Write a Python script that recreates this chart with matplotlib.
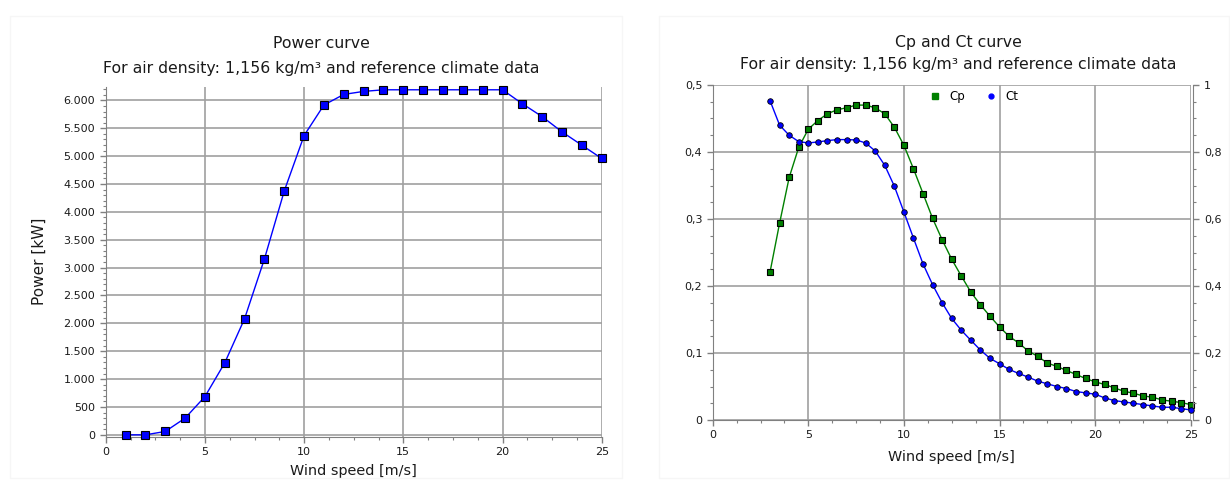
import matplotlib
matplotlib.use('Agg')
import matplotlib.pyplot as plt
import matplotlib.ticker as ticker
from matplotlib.patches import Rectangle

plt.rcParams['font.family'] = ['DejaVu Sans']

# power curve data
wind_power = [1, 2, 3, 4, 5, 6, 7, 8, 9, 10, 11, 12, 13,
              14, 15, 16, 17, 18, 19, 20, 21, 22, 23, 24, 25]
power_kw = [0, 0, 60, 299, 685, 1291, 2084, 3155, 4375, 5369, 5917, 6107, 6161,
            6190, 6190, 6190, 6190, 6190, 6190, 6190, 5940, 5708, 5435, 5196, 4958]

# Cp / Ct data
wind_c = [3, 3.5, 4, 4.5, 5, 5.5, 6, 6.5, 7, 7.5, 8, 8.5, 9, 9.5, 10, 10.5,
          11, 11.5, 12, 12.5, 13, 13.5, 14, 14.5, 15, 15.5, 16, 16.5, 17, 17.5,
          18, 18.5, 19, 19.5, 20, 20.5, 21, 21.5, 22, 22.5, 23, 23.5, 24, 24.5, 25]
cp = [0.221, 0.294, 0.362, 0.407, 0.434, 0.447, 0.457, 0.463, 0.466, 0.470,
      0.470, 0.466, 0.457, 0.437, 0.410, 0.375, 0.338, 0.301, 0.269, 0.240,
      0.215, 0.191, 0.172, 0.155, 0.139, 0.125, 0.115, 0.103, 0.095, 0.085,
      0.080, 0.074, 0.068, 0.062, 0.057, 0.053, 0.048, 0.043, 0.040, 0.036,
      0.034, 0.030, 0.028, 0.026, 0.023]
ct = [0.953, 0.880, 0.850, 0.831, 0.827, 0.830, 0.834, 0.837, 0.837, 0.836,
      0.827, 0.803, 0.760, 0.698, 0.621, 0.543, 0.466, 0.404, 0.350, 0.303,
      0.268, 0.238, 0.209, 0.184, 0.168, 0.151, 0.139, 0.128, 0.116, 0.108,
      0.100, 0.094, 0.085, 0.081, 0.077, 0.066, 0.058, 0.054, 0.050, 0.046,
      0.042, 0.038, 0.038, 0.034, 0.030]

subtitle = 'For air density: 1,156 kg/m\u00b3 and reference climate data'

W, H = 1230, 484
fig = plt.figure(figsize=(W / 100, H / 100), dpi=100)

GRID = '#a0a0a0'
SPINE = '#808080'
TXT = '#1a1a1a'
TICK_FS = 8
TITLE_FS = 11.3


def px(x0, y0, x1, y1):
    # pixel box -> figure fraction rect
    return [x0 / W, 1 - y1 / H, (x1 - x0) / W, (y1 - y0) / H]


def style(ax):
    for s in ['top', 'right']:
        ax.spines[s].set_visible(False)
    for s in ['left', 'bottom']:
        ax.spines[s].set_color(SPINE)
    ax.grid(True, which='major', color=GRID, linewidth=1.2)
    ax.set_axisbelow(True)
    ax.tick_params(which='major', direction='out', length=4, width=1,
                   color=SPINE, labelsize=TICK_FS, labelcolor=TXT)
    ax.tick_params(which='minor', direction='out', length=2.5, width=0.8, color=SPINE)
    ax.xaxis.set_minor_locator(ticker.AutoMinorLocator(4))


# very light panel borders
for x0, w in [(10, 612), (659, 570)]:
    fig.patches.append(Rectangle((x0 / W, 1 - 478 / H), w / W, 462 / H,
                                 transform=fig.transFigure, fill=False,
                                 edgecolor='#f6f6f6', linewidth=1))

# ---- power curve ----
ax1 = fig.add_axes(px(105.7, 87, 601.7, 436.5))
style(ax1)
ax1.plot(wind_power, power_kw, color='#0000ff', linewidth=1, marker='s', markersize=5.5,
         markerfacecolor='#0000ff', markeredgecolor='black', markeredgewidth=0.8, clip_on=False,
         zorder=3)
ax1.set_xlim(0, 25)
ax1.set_ylim(-30, 6240)
ax1.xaxis.set_major_locator(ticker.MultipleLocator(5))
ax1.yaxis.set_major_locator(ticker.MultipleLocator(500))
ax1.yaxis.set_minor_locator(ticker.AutoMinorLocator(5))
ax1.yaxis.set_major_formatter(ticker.FuncFormatter(lambda v, p: f'{v:,.0f}'.replace(',', '.')))
ax1.set_xlabel('Wind speed [m/s]', fontsize=10.4, color=TXT, labelpad=5)
ax1.set_ylabel('Power [kW]', fontsize=11, color=TXT, labelpad=12)
fig.text(321 / W, 1 - 44 / H, 'Power curve', ha='center', va='center', fontsize=TITLE_FS, color=TXT)
fig.text(321 / W, 1 - 69 / H, subtitle, ha='center', va='center', fontsize=TITLE_FS, color=TXT)

# ---- Cp and Ct ----
ax2 = fig.add_axes(px(712.7, 85, 1190.7, 420))
style(ax2)
ax3 = ax2.twinx()
for s in ['top', 'left', 'bottom']:
    ax3.spines[s].set_visible(False)
ax3.spines['right'].set_color(SPINE)
ax3.spines['right'].set_position(('outward', 2))
ax3.tick_params(which='major', direction='out', length=4, width=1,
                color=SPINE, labelsize=TICK_FS, labelcolor=TXT)
ax3.tick_params(which='minor', direction='out', length=2.5, width=0.8, color=SPINE)

ax2.plot(wind_c, cp, color='#008000', linewidth=1, marker='s', markersize=5,
         markerfacecolor='#008000', markeredgecolor='black', markeredgewidth=0.8,
         clip_on=False, zorder=3)
ax3.plot(wind_c, ct, color='#0000ff', linewidth=1, marker='o', markersize=4,
         markerfacecolor='#0000ff', markeredgecolor='black', markeredgewidth=0.6,
         clip_on=False, zorder=3)

ax2.set_xlim(0, 25)
ax2.set_ylim(0, 0.5)
ax3.set_ylim(0, 1)
ax2.xaxis.set_major_locator(ticker.MultipleLocator(5))
ax2.yaxis.set_major_locator(ticker.MultipleLocator(0.1))
ax2.yaxis.set_minor_locator(ticker.AutoMinorLocator(4))
ax3.yaxis.set_major_locator(ticker.MultipleLocator(0.2))
ax3.yaxis.set_minor_locator(ticker.AutoMinorLocator(4))


def comma_fmt(v, p):
    s = f'{v:.1f}'.rstrip('0').rstrip('.')
    return s.replace('.', ',')


ax2.yaxis.set_major_formatter(ticker.FuncFormatter(comma_fmt))
ax3.yaxis.set_major_formatter(ticker.FuncFormatter(comma_fmt))
ax2.set_xlabel('Wind speed [m/s]', fontsize=10.4, color=TXT, labelpad=7)

h1 = plt.Line2D([], [], linestyle='none', marker='s', markersize=5, color='#008000')
h2 = plt.Line2D([], [], linestyle='none', marker='o', markersize=3.5, color='#0000ff')
ax2.legend([h1, h2], ['Cp', 'Ct'], ncol=2, frameon=False, loc='center',
           bbox_to_anchor=(0.545, 0.965), fontsize=8.5, handletextpad=0.6,
           columnspacing=1.6, handlelength=1.2)

fig.text(958 / W, 1 - 43 / H, 'Cp and Ct curve', ha='center', va='center', fontsize=TITLE_FS, color=TXT)
fig.text(958 / W, 1 - 65 / H, subtitle, ha='center', va='center', fontsize=TITLE_FS, color=TXT)

fig.savefig('out.png', dpi=100, facecolor='white')
